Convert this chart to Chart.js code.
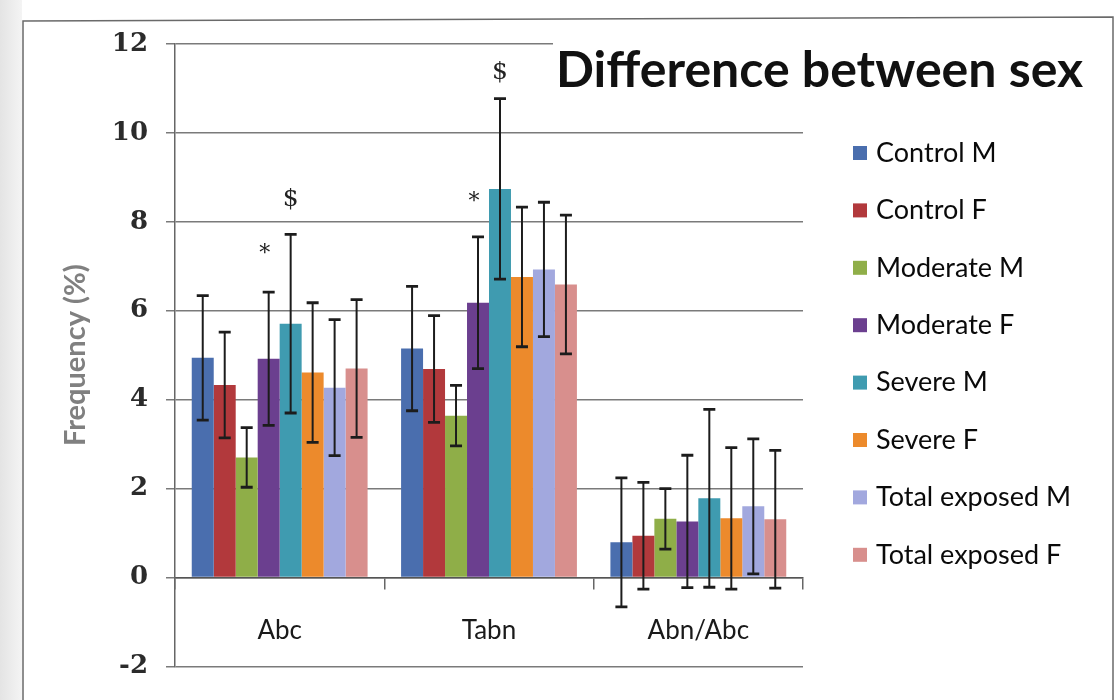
<!DOCTYPE html>
<html><head><meta charset="utf-8">
<script src="https://cdn.jsdelivr.net/npm/chart.js@4.4.0/dist/chart.umd.min.js"></script>
<style>html,body{margin:0;padding:0;background:#fff}#wrap{width:1120px;height:700px}</style>
</head><body><div id="wrap"><canvas id="c" width="1120" height="700"></canvas></div>
<script>
const categories = ['Abc', 'Tabn', 'Abn/Abc'];
const seriesNames = ['Control M', 'Control F', 'Moderate M', 'Moderate F', 'Severe M', 'Severe F', 'Total exposed M', 'Total exposed F'];
const controlM  = [4.94, 5.15, 0.79];
const controlF  = [4.33, 4.69, 0.94];
const moderateM = [2.70, 3.64, 1.32];
const moderateF = [4.92, 6.18, 1.26];
const severeM   = [5.71, 8.74, 1.78];
const severeF   = [4.61, 6.76, 1.33];
const totalM    = [4.27, 6.93, 1.60];
const totalF    = [4.70, 6.59, 1.31];
const controlMErr  = [1.40, 1.40, 1.45];
const controlFErr  = [1.19, 1.20, 1.20];
const moderateMErr = [0.67, 0.68, 0.68];
const moderateFErr = [1.50, 1.48, 1.49];
const severeMErr   = [2.01, 2.03, 2.00];
const severeFErr   = [1.57, 1.57, 1.59];
const totalMErr    = [1.53, 1.51, 1.52];
const totalFErr    = [1.55, 1.56, 1.55];
const yTicks = [-2, 0, 2, 4, 6, 8, 10, 12];
const markCategory = [0, 0, 1, 1];
const markSeries   = [3, 4, 3, 4];
const markSymbol   = ['*', '$', '*', '$'];
const markValue    = [7.26, 8.50, 8.43, 11.37];

const seriesValues = [controlM, controlF, moderateM, moderateF, severeM, severeF, totalM, totalF];
const seriesErrors = [controlMErr, controlFErr, moderateMErr, moderateFErr, severeMErr, severeFErr, totalMErr, totalFErr];
const colors = ['#4a6eae', '#b2393c', '#8fae48', '#6b3f8f', '#3f9bb0', '#ec8a2c', '#a2a8de', '#d88f8d'];

const framePlugin = {
  id: 'frame',
  beforeDraw(chart) {
    const ctx = chart.ctx;
    ctx.save();
    ctx.fillStyle = '#ffffff';
    ctx.fillRect(0, 0, chart.width, chart.height);
    const g = ctx.createLinearGradient(0, 0, 22, 0);
    g.addColorStop(0, '#e4e4e4');
    g.addColorStop(1, '#f4f4f4');
    ctx.fillStyle = g;
    ctx.fillRect(0, 0, 22, chart.height);
    ctx.strokeStyle = '#6a6a6a';
    ctx.lineWidth = 1.5;
    ctx.beginPath();
    ctx.moveTo(23, chart.height);
    ctx.lineTo(23, 21);
    ctx.lineTo(1113, 17);
    ctx.lineTo(1113, chart.height);
    ctx.stroke();
    ctx.restore();
  }
};

const errorBarPlugin = {
  id: 'errorBars',
  afterDatasetsDraw(chart) {
    const ctx = chart.ctx, y = chart.scales.y;
    chart.data.datasets.forEach((ds, di) => {
      const meta = chart.getDatasetMeta(di);
      meta.data.forEach((bar, i) => {
        const v = ds.data[i], e = ds.errors[i];
        const yt = y.getPixelForValue(v + e), yb = y.getPixelForValue(v - e), x = bar.x;
        ctx.save();
        ctx.strokeStyle = '#1c1c1c';
        ctx.lineWidth = 2;
        ctx.beginPath(); ctx.moveTo(x, yt); ctx.lineTo(x, yb); ctx.stroke();
        ctx.lineWidth = 2.8;
        ctx.beginPath();
        ctx.moveTo(x - 6, yt); ctx.lineTo(x + 6, yt);
        ctx.moveTo(x - 6, yb); ctx.lineTo(x + 6, yb);
        ctx.stroke();
        ctx.restore();
      });
    });
  }
};

const marksPlugin = {
  id: 'marks',
  afterDatasetsDraw(chart) {
    const ctx = chart.ctx, y = chart.scales.y;
    ctx.save();
    ctx.fillStyle = '#222';
    ctx.textAlign = 'center';
    ctx.textBaseline = 'middle';
    markSymbol.forEach((s, k) => {
      const bar = chart.getDatasetMeta(markSeries[k]).data[markCategory[k]];
      ctx.font = (s === '$' ? '25px' : '22px') + ' "DejaVu Serif", serif';
      ctx.fillText(s, bar.x - (s === '*' ? 4 : 0), y.getPixelForValue(markValue[k]));
    });
    ctx.restore();
  }
};

const legendTitlePlugin = {
  id: 'legendTitle',
  afterDraw(chart) {
    const ctx = chart.ctx;
    ctx.save();
    ctx.fillStyle = '#ffffff';
    ctx.fillRect(553, 38, 550, 64);
    const t = 'Difference between sex';
    ctx.font = 'bold 100px Lato, "Noto Sans", sans-serif';
    const w100 = ctx.measureText(t).width;
    const size = Math.round(100 * 532 / w100);
    ctx.font = 'bold ' + size + 'px Lato, "Noto Sans", sans-serif';
    ctx.fillStyle = '#111';
    ctx.textAlign = 'left';
    ctx.textBaseline = 'alphabetic';
    ctx.fillText(t, 556, 87);
    ctx.font = '27px Lato, "Noto Sans", sans-serif';
    ctx.textBaseline = 'middle';
    chart.data.datasets.forEach((ds, i) => {
      const cy = 153 + 57.4 * i;
      ctx.fillStyle = ds.backgroundColor;
      ctx.fillRect(853, cy - 7, 14, 14);
      ctx.fillStyle = '#0a0a0a';
      ctx.fillText(ds.label, 876, cy);
    });
    ctx.restore();
  }
};

new Chart(document.getElementById('c'), {
  type: 'bar',
  data: {
    labels: categories,
    datasets: seriesNames.map((n, i) => ({
      label: n,
      data: seriesValues[i],
      errors: seriesErrors[i],
      backgroundColor: colors[i],
      borderWidth: 0,
      categoryPercentage: 0.84,
      barPercentage: 1.0
    }))
  },
  options: {
    responsive: false,
    animation: false,
    devicePixelRatio: 1,
    layout: { padding: { left: 0, right: 317, top: 44, bottom: 32 } },
    plugins: { legend: { display: false }, tooltip: { enabled: false } },
    scales: {
      x: {
        position: { y: 0 },
        grid: { drawOnChartArea: false, offset: true, tickLength: 11, color: '#666', lineWidth: 1.5 },
        border: { display: true, color: '#555', width: 1.5 },
        ticks: { font: { family: 'Lato', size: 26 }, color: '#1a1a1a', padding: 27 }
      },
      y: {
        min: -2, max: 12,
        afterBuildTicks(s) { s.ticks = yTicks.map(v => ({ value: v })); },
        afterFit(s) { s.width = 175; },
        grid: { color: '#7a7a7a', lineWidth: 1.5, tickLength: 9 },
        border: { display: true, color: '#666', width: 1.5 },
        ticks: { font: { family: 'DejaVu Serif', size: 26, weight: 'bold' }, color: '#2b2b2b', padding: 18 },
        title: { display: true, text: 'Frequency (%)', color: '#808080', font: { family: 'Lato', size: 29, weight: 'bold' }, padding: { top: 58, bottom: 0 } }
      }
    }
  },
  plugins: [framePlugin, errorBarPlugin, marksPlugin, legendTitlePlugin]
});
</script>
</body></html>
